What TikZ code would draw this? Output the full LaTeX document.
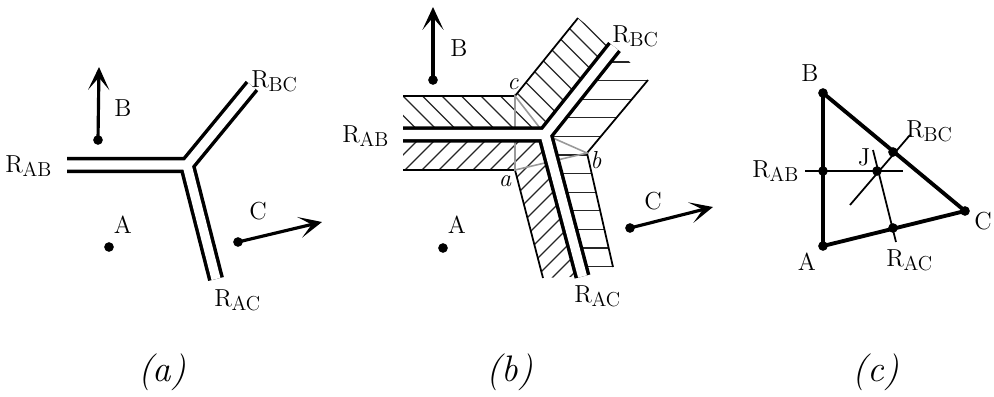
\documentclass[tikz,border=0pt]{standalone}
\usepackage{tikz}
\usetikzlibrary{arrows.meta, calc}
\newcommand{\Rsub}[1]{R\kern-0.02em\raisebox{-0.45ex}{\fontsize{11.5}{13}\selectfont #1}}
\begin{document}
\begin{tikzpicture}[
    x=0.02cm, y=-0.02cm,
    dot/.style={circle, fill=black, inner sep=0pt, minimum size=5.5pt},
    lbl/.style={inner sep=0pt, font=\fontsize{14}{16}\selectfont},
    ilbl/.style={inner sep=0pt, font=\fontsize{14}{16}\selectfont\itshape},
    rlbl/.style={lbl, anchor=base west},
    captext/.style={inner sep=0pt, font=\fontsize{21}{25}\selectfont\itshape},
    vec/.style={-{Stealth[length=13pt, width=12pt, inset=7pt]}, line width=1.8pt},
    ridge/.style={line width=9.2pt},
    ridgegap/.style={line width=5.2pt, white},
    rim/.style={line width=1pt},
    hatch/.style={line width=0.7pt, black!85},
    aux/.style={line width=0.9pt, black!40},
    side/.style={line width=2.2pt, line join=round},
    perp/.style={line width=1pt}
  ]
  \useasboundingbox (0,0) rectangle (994,396);

  % (a)
  \coordinate (Ja) at (187,165);
  \coordinate (ABa) at (67,165);
  \coordinate (BCa) at (252,86);
  \coordinate (ACa) at (216,279);
  \draw[ridge] (Ja) -- (ABa) (Ja) -- (BCa) (Ja) -- (ACa);
  \draw[ridgegap] (Ja) -- (ABa) (Ja) -- (BCa) (Ja) -- (ACa);
  \node[rlbl] (rab-a) at (5,172) {\Rsub{AB}};
  \node[rlbl] (rbc-a) at (251,87) {\Rsub{BC}};
  \node[rlbl] (rac-a) at (214,306) {\Rsub{AC}};
  \node[dot] (Aa) at (109,247) {};
  \node[lbl] (Aa-l) at (123,225) {A};
  \node[dot] (Ba) at (98,140) {};
  \coordinate (Ba-tip) at (99,67);
  \draw[vec] (Ba.center) -- (Ba-tip);
  \node[lbl] (Ba-l) at (123,108) {B};
  \node[dot] (Ca) at (238,242) {};
  \coordinate (Ca-tip) at (322,222);
  \draw[vec] (Ca.center) -- (Ca-tip);
  \node[lbl] (Ca-l) at (258,211) {C};
  \node[captext] (cap-a) at (162,372) {(a)};

  % (b)
  \coordinate (Jb) at (545,134.5);
  \coordinate (ABb) at (403,134.5);
  \coordinate (BCb) at (614.5,47);
  \coordinate (ACb) at (582.5,276.5);
  \coordinate (ob1) at (403,96);
  \coordinate (c) at (515,96);
  \coordinate (ob2) at (578,18);
  \coordinate (oa1) at (403,170);
  \coordinate (a) at (515,170);
  \coordinate (oa2) at (543,278);
  \coordinate (oc1) at (648,80);
  \coordinate (b) at (587,153);
  \coordinate (oc2) at (613,267);
  \begin{scope}
    \clip (ob1) -- (c) -- (ob2) -- (BCb) -- (Jb) -- (ABb) -- cycle;
    \foreach \n in {-2,...,14}
      \draw[hatch] ({307+19.5*\n},0) -- ++(300,300);
  \end{scope}
  \begin{scope}
    \clip (oa1) -- (a) -- (oa2) -- (ACb) -- (Jb) -- (ABb) -- cycle;
    \foreach \n in {-3,...,18}
      \draw[hatch] ({575+17*\n},0) -- ++(-300,300);
  \end{scope}
  \begin{scope}
    \clip (Jb) -- (BCb) -- (oc1) -- (b) -- (oc2) -- (ACb) -- cycle;
    \foreach \n in {0,...,11}
      \draw[hatch] (540,{62+18.6*\n}) -- ++(130,0);
  \end{scope}
  \draw[rim] (ob1) -- (c) -- (ob2);
  \draw[rim] (oa1) -- (a) -- (oa2);
  \draw[rim] (oc1) -- (b) -- (oc2);
  \draw[aux] (c) -- (a) -- (b) -- (Jb) -- cycle;
  \draw[ridge] (Jb) -- (ABb) (Jb) -- (BCb) (Jb) -- (ACb);
  \draw[ridgegap] (Jb) -- (ABb) (Jb) -- (BCb) (Jb) -- (ACb);
  \node[ilbl] (a-l) at (505,181) {a};
  \node[ilbl] (b-l) at (596,160) {b};
  \node[ilbl] (c-l) at (513,84) {c};
  \node[rlbl] (rab-b) at (342,142) {\Rsub{AB}};
  \node[rlbl] (rbc-b) at (612,42) {\Rsub{BC}};
  \node[rlbl] (rac-b) at (574,302) {\Rsub{AC}};
  \node[dot] (Ab) at (443,248) {};
  \node[lbl] (Ab-l) at (457,225) {A};
  \node[dot] (Bb) at (433,80) {};
  \coordinate (Bb-tip) at (433,7);
  \draw[vec] (Bb.center) -- (Bb-tip);
  \node[lbl] (Bb-l) at (459,48) {B};
  \node[dot] (Cb) at (630,228) {};
  \coordinate (Cb-tip) at (713,207);
  \draw[vec] (Cb.center) -- (Cb-tip);
  \node[lbl] (Cb-l) at (653,201) {C};
  \node[captext] (cap-b) at (510,372) {(b)};

  % (c)
  \node[dot] (Ac) at (823,246) {};
  \node[dot] (Bc) at (823,93) {};
  \node[dot] (Cc) at (965,211) {};
  \draw[side] (Ac.center) -- (Bc.center) -- (Cc.center) -- cycle;
  \coordinate (pab1) at (805,171);
  \coordinate (pab2) at (903,171);
  \coordinate (pbc1) at (850,205);
  \coordinate (pbc2) at (910,135);
  \coordinate (pac1) at (873,150);
  \coordinate (pac2) at (896,242);
  \draw[perp] (pab1) -- (pab2);
  \draw[perp] (pbc1) -- (pbc2);
  \draw[perp] (pac1) -- (pac2);
  \node[dot] (RABc) at (823,171) {};
  \node[dot] (RBCc) at (893,152) {};
  \node[dot] (RACc) at (893,228) {};
  \node[dot] (Jc) at (877,171) {};
  \node[lbl] (Ac-l) at (807,262) {A};
  \node[lbl] (Bc-l) at (810,73) {B};
  \node[lbl] (Cc-l) at (983,221) {C};
  \node[lbl] (Jc-l) at (864,157) {J};
  \node[rlbl] (rab-c) at (752,177) {\Rsub{AB}};
  \node[rlbl] (rbc-c) at (906,137) {\Rsub{BC}};
  \node[rlbl] (rac-c) at (886,266) {\Rsub{AC}};
  \node[captext] (cap-c) at (876,372) {(c)};
\end{tikzpicture}
\end{document}
